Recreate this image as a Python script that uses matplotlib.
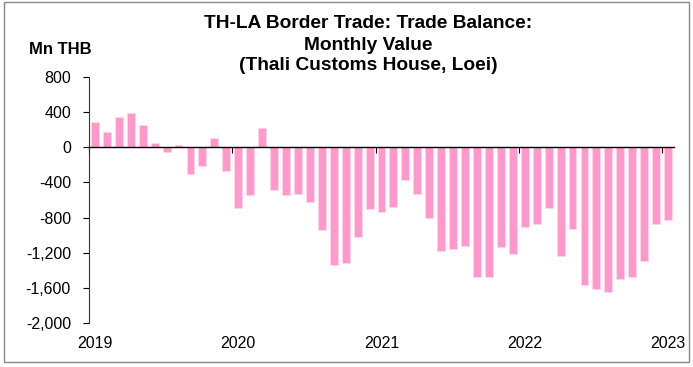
import matplotlib
matplotlib.use("Agg")
import matplotlib.pyplot as plt
from matplotlib.ticker import FuncFormatter, FixedLocator
from matplotlib.patches import Rectangle
import numpy as np

plt.rcParams['font.family'] = ['Liberation Sans', 'DejaVu Sans']

# Monthly trade balance, Jan 2019 .. Jan 2023 (Mn THB)
months = [f"{y}-{m:02d}" for y in range(2019, 2023) for m in range(1, 13)] + ["2023-01"]
values = [
    284, 178, 349, 390, 250, 45, -53, 30, -303, -212, 102, -269,
    -690, -542, 216, -485, -543, -527, -618, -944, -1338, -1312, -1016, -698,
    -732, -675, -375, -531, -804, -1175, -1160, -1118, -1475, -1471, -1137, -1213,
    -906, -868, -690, -1240, -933, -1566, -1611, -1642, -1494, -1482, -1289, -872,
    -827,
]
year_labels = ["2019", "2020", "2021", "2022", "2023"]
y_ticks = [800, 400, 0, -400, -800, -1200, -1600, -2000]

bar_color = "#FF99CC"

fig = plt.figure(figsize=(6.93, 3.67), dpi=100)
ax = fig.add_axes([89/693, 1-323/367, (674-89)/693, (323-77)/367])

x = np.arange(len(values))
ax.bar(x, values, width=0.66, color=bar_color, edgecolor="#FFD6EA", linewidth=0.6, zorder=2)

ax.set_xlim(-0.5, len(values) - 0.5)
ax.set_ylim(-2000, 800)
ax.set_yticks(y_ticks)
ax.yaxis.set_major_formatter(FuncFormatter(lambda v, p: f"{int(v):,}"))
ax.tick_params(axis='y', direction='out', length=4, width=0.8, pad=9, labelsize=11.5)

# bottom spine placed at zero, with ticks at year boundaries
ax.spines['top'].set_visible(False)
ax.spines['right'].set_visible(False)
ax.spines['bottom'].set_position(('data', 0))
ax.spines['bottom'].set_linewidth(1.0)
ax.spines['bottom'].set_zorder(3)
ax.spines['left'].set_linewidth(0.8)
ax.spines['left'].set_color("#333333")
year_idx = [months.index(f"{y}-01") for y in year_labels]
ax.xaxis.set_major_locator(FixedLocator([i - 0.5 for i in year_idx]))
ax.tick_params(axis='x', direction='out', length=4, width=0.8, labelbottom=False)

sec = ax.secondary_xaxis(0.0)
sec.set_xticks(year_idx)
sec.set_xticklabels(year_labels)
sec.tick_params(axis='x', length=0, pad=9, labelsize=11.5)
sec.spines['bottom'].set_visible(False)

for ty, line in [(23, "TH-LA Border Trade: Trade Balance:"),
                 (45, "Monthly Value"),
                 (66, "(Thali Customs House, Loei)")]:
    fig.text(368/693, 1-ty/367, line, ha='center', va='center',
             fontsize=13.8, fontweight='bold')
fig.text(60/693, 1-49/367, "Mn THB", ha='center', va='center', fontsize=12, fontweight='bold')

fig.patches.append(Rectangle((4/693, 1-362/367), (689-4)/693, (361-1)/367,
                             transform=fig.transFigure, fill=False,
                             edgecolor="#888888", linewidth=1.0))

fig.savefig("out.png", dpi=100)
